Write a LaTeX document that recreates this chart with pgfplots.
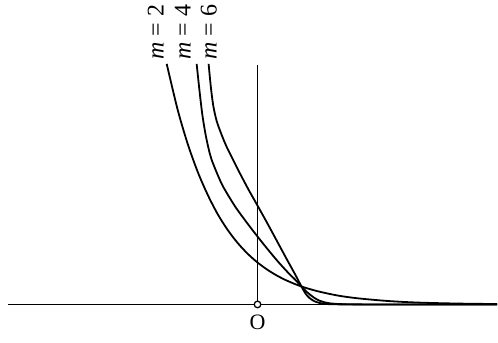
\documentclass[border=0pt]{standalone}
\usepackage{fontspec}
\setmainfont{Liberation Serif}
\usepackage{pgfplots}
\pgfplotsset{compat=1.18}

\begin{document}
\begin{tikzpicture}
\begin{axis}[
  width=498bp, height=343bp, scale only axis,
  xmin=-258, xmax=240, ymin=-38, ymax=305,
  axis lines=none, clip=false,
  cycle list={{black, no markers, line width=1.8bp, smooth, tension=0.5}},
]
% coordinate axes
\addplot[black, no markers, line width=1.5bp, sharp plot] coordinates {(-250,0) (240,0)};
\addplot[black, no markers, line width=1.5bp, sharp plot] coordinates {(0,0) (0,240)};

% m = 2
\addplot[black, no markers, line width=1.8bp, smooth, tension=0.5] coordinates {
  (-91,241) (-80,195) (-70,161) (-60,133) (-50,110) (-40,90.6) (-30,74.8)
  (-20,61.7) (-10,50.9) (0,42) (10,34.7) (20,28.6) (30,23.6) (44,18)
  (60,13.3) (80,9.0) (100,6.2) (130,3.5) (160,1.9) (200,0.9) (240,0.4)
};
% m = 4
\addplot[black, no markers, line width=1.8bp, smooth, tension=0.5] coordinates {
  (-61,241) (-59,222) (-57,204) (-55,188) (-52,170) (-49,156) (-46,145)
  (-40,130) (-35,119) (-28,107) (-21,96) (-10,81) (0,68) (10,55.5)
  (20,43.5) (30,32.5) (38,24.5) (44,18) (50,12) (56,7.2) (62,3.8)
  (70,1.5) (80,0.5) (95,0.1) (140,0) (240,0)
};
% m = 6
\addplot[black, no markers, line width=1.8bp, smooth, tension=0.5] coordinates {
  (-49,241) (-47,220) (-44.5,200) (-41,184) (-36,170) (-31,158) (-25,146)
  (-18,132) (-9,115) (0,99) (10,81) (20,62.5) (30,44) (38,29.5) (44,18)
  (48,11) (52,6.5) (57,3.2) (63,1.3) (70,0.4) (80,0.1) (120,0) (240,0)
};

% origin
\addplot[only marks, mark=*, mark size=3.3bp, mark options={fill=white, draw=black, line width=1.3bp}]
  coordinates {(0,0)};

\node[anchor=base west, rotate=90, font=\fontsize{24bp}{26bp}\selectfont, inner sep=0pt]
  at (axis cs:-94,245) {\textit{m} = 2};
\node[anchor=base west, rotate=90, font=\fontsize{24bp}{26bp}\selectfont, inner sep=0pt]
  at (axis cs:-67,245) {\textit{m} = 4};
\node[anchor=base west, rotate=90, font=\fontsize{24bp}{26bp}\selectfont, inner sep=0pt]
  at (axis cs:-41,245) {\textit{m} = 6};
\node[font=\fontsize{22bp}{24bp}\selectfont, inner sep=0pt] at (axis cs:0,-18) {O};

\path (rel axis cs:0,0) rectangle (rel axis cs:1,1);
\end{axis}
\end{tikzpicture}
\end{document}
